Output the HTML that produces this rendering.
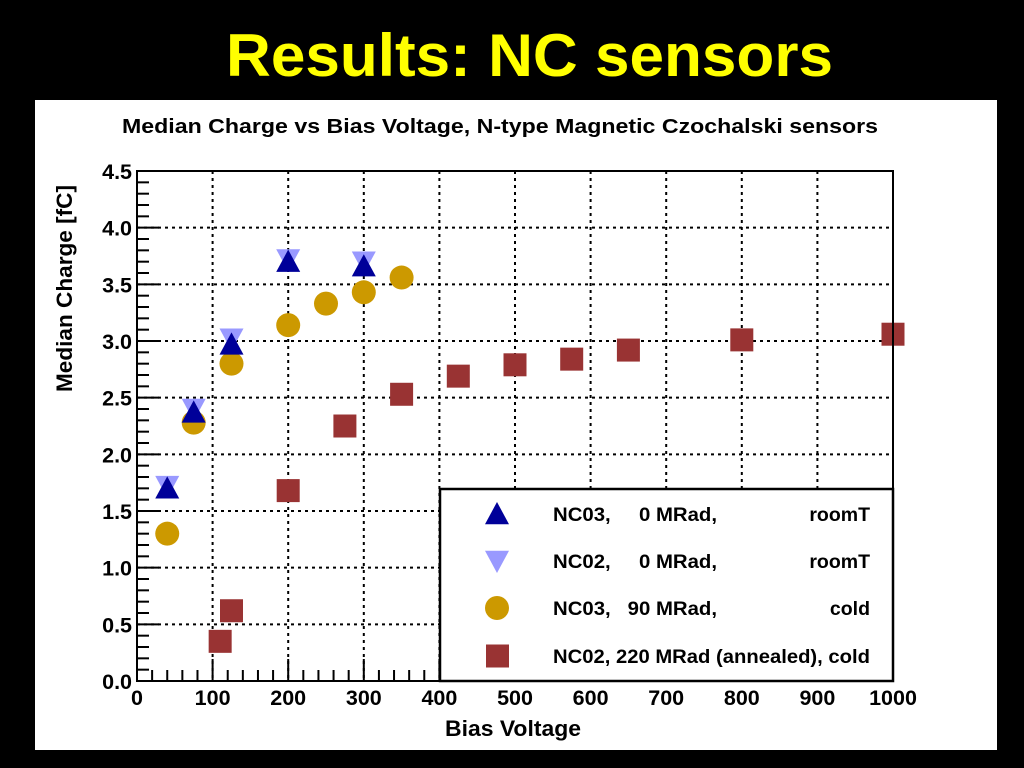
<!DOCTYPE html>
<html><head><meta charset="utf-8"><style>
html,body{margin:0;padding:0;background:#000;width:1024px;height:768px;overflow:hidden}
svg{display:block;font-family:"Liberation Sans",sans-serif}
</style></head><body>
<svg id="s" width="1024" height="768">
<rect x="0" y="0" width="1024" height="768" fill="#000"/>
<text x="226" y="76" textLength="607" lengthAdjust="spacingAndGlyphs" font-size="60" font-weight="bold" fill="#ffff00">Results: NC sensors</text>
<rect x="35" y="100" width="962" height="650" fill="#fff"/>
<text x="122" y="133" textLength="756" lengthAdjust="spacingAndGlyphs" font-size="20" font-weight="bold" fill="#000">Median Charge vs Bias Voltage, N-type Magnetic Czochalski sensors</text>
<text x="445" y="736" textLength="136" lengthAdjust="spacingAndGlyphs" font-size="22" font-weight="bold">Bias Voltage</text>
<text transform="translate(72,392) rotate(-90)" textLength="207" lengthAdjust="spacingAndGlyphs" font-size="22" font-weight="bold">Median Charge [fC]</text>
<g id="grid"></g><g id="ticks"></g><g id="marks"></g>
<rect x="137" y="171" width="756" height="510" fill="none" stroke="#000" stroke-width="2"/>
<g id="legend"></g>
</svg>
<script>
const xTicks=[0,100,200,300,400,500,600,700,800,900,1000];
const yTicks=[0,0.5,1,1.5,2,2.5,3,3.5,4,4.5];
const yTickLabels=["0.0","0.5","1.0","1.5","2.0","2.5","3.0","3.5","4.0","4.5"];
const nc03RoomX=[40,75,125,200,300];
const nc03RoomY=[1.70,2.37,2.97,3.70,3.66];
const nc02RoomX=[40,75,125,200,300];
const nc02RoomY=[1.72,2.40,3.02,3.72,3.70];
const nc03ColdX=[40,75,125,200,250,300,350];
const nc03ColdY=[1.30,2.28,2.80,3.14,3.33,3.43,3.56];
const nc02AnnX=[110,125,200,275,350,425,500,575,650,800,1000];
const nc02AnnY=[0.35,0.62,1.68,2.25,2.53,2.69,2.79,2.84,2.92,3.01,3.06];
const legendLabels=["NC03,     0 MRad,","NC02,     0 MRad,","NC03,   90 MRad,","NC02, 220 MRad (annealed), cold"];
const legendRight=["roomT","roomT","cold",""];
const NS="http://www.w3.org/2000/svg";
const X=v=>137+v*0.756, Y=v=>681-v*113.33;
function mk(tag,attrs,parent){const e=document.createElementNS(NS,tag);for(const k in attrs)e.setAttribute(k,attrs[k]);document.getElementById(parent).appendChild(e);return e;}
xTicks.forEach(t=>{
  if(t>0&&t<1000){const g=mk('line',{x1:X(t),x2:X(t),y1:171,y2:681,stroke:'#000','stroke-width':2,'stroke-dasharray':'3,4'},'grid');
  
  }
  const l=mk('text',{x:X(t),y:705,'text-anchor':'middle','font-size':21.5,'font-weight':'bold'},'ticks');l.textContent=t;
  
  
});
for(let v=0;v<=1000;v+=20){const maj=v%100===0;
  mk('line',{x1:X(v),x2:X(v),y1:681,y2:681-(maj?22:11),stroke:'#000','stroke-width':2},'ticks');}
yTicks.forEach((t,i)=>{
  if(t>0&&t<4.5){const g=mk('line',{x1:137,x2:893,y1:Y(t),y2:Y(t),stroke:'#000','stroke-width':2,'stroke-dasharray':'3,4'},'grid');
  
  }
  const l=mk('text',{x:132,y:Y(t)+8,'text-anchor':'end','font-size':21.5,'font-weight':'bold'},'ticks');l.textContent=yTickLabels[i];
  
  
});
for(let k=0;k<=45;k++){const maj=k%5===0;const y=Y(k/10);
  mk('line',{x1:137,x2:137+(maj?22:12),y1:y,y2:y,stroke:'#000','stroke-width':2},'ticks');}
function tri(cx,cy,up,fill,par){const s=12;
  const p=up?`${cx},${cy-s} ${cx-s},${cy+s*0.85} ${cx+s},${cy+s*0.85}`:`${cx},${cy+s} ${cx-s},${cy-s*0.85} ${cx+s},${cy-s*0.85}`;
  return mk('polygon',{points:p,fill:fill},par);}
nc03ColdX.forEach((v,i)=>{const e=mk('circle',{cx:X(v),cy:Y(nc03ColdY[i]),r:12,fill:'#cc9900'},'marks');
  
  });
nc02AnnX.forEach((v,i)=>{const e=mk('rect',{x:X(v)-11.5,y:Y(nc02AnnY[i])-11.5,width:23,height:23,fill:'#993333'},'marks');
  
  });
nc02RoomX.forEach((v,i)=>{const e=tri(X(v),Y(nc02RoomY[i]),false,'#9999ff','marks');
  
  });
nc03RoomX.forEach((v,i)=>{const e=tri(X(v),Y(nc03RoomY[i]),true,'#000099','marks');
  
  });
mk('rect',{x:440,y:489,width:453,height:192,fill:'#fff',stroke:'#000','stroke-width':2.5},'legend');
const rows=[514,561,608,656];
const legendWidths=[164,164,164,317];
rows.forEach((y,i)=>{
  let m;
  if(i===0)m=tri(497,y,true,'#000099','legend');
  else if(i===1)m=tri(497,y,false,'#9999ff','legend');
  else if(i===2)m=mk('circle',{cx:497,cy:y,r:12,fill:'#cc9900'},'legend');
  else m=mk('rect',{x:486,y:y-11.5,width:23,height:23,fill:'#993333'},'legend');
  
  
  const t=mk('text',{x:553,y:y+7,'font-size':19.5,'font-weight':'bold',textLength:legendWidths[i],lengthAdjust:'spacingAndGlyphs'},'legend');
  t.style.whiteSpace='pre';t.textContent=legendLabels[i];
  
  
  if(legendRight[i]){const r=mk('text',{x:870,y:y+7,'text-anchor':'end','font-size':19.5,'font-weight':'bold'},'legend');r.textContent=legendRight[i];
  
  }
});
</script>
</body></html>
